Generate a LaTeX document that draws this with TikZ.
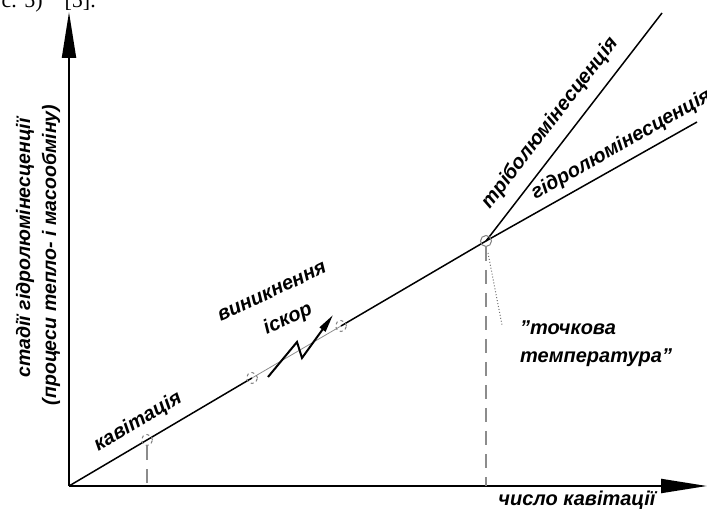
\documentclass[tikz,border=0pt]{standalone}
\usepackage{fontspec}
\setmainfont{Liberation Sans}
\newfontfamily\refserif{Liberation Serif}
\usetikzlibrary{arrows.meta}
\definecolor{guide}{HTML}{8C8C8C}

\begin{document}
\begin{tikzpicture}[x=1pt, y=1pt,
  axis/.style={line width=2pt, -{Triangle[length=46pt, width=14pt]}},
  curve/.style={line width=1.5pt},
  lbl/.style={font=\fontsize{20}{28}\selectfont\bfseries\itshape, inner sep=0pt},
  ylbl/.style={font=\fontsize{19.5}{24}\selectfont\bfseries\itshape, inner sep=0pt, rotate=90},
  drop/.style={guide, line width=1.5pt, dash pattern=on 14pt off 9pt},
  ring/.style={circle, draw=guide!90!black, line width=1pt, minimum size=11pt, inner sep=0pt},
  spark/.style={line width=2pt, -{Triangle[length=18pt, width=7pt]}}
]
  \useasboundingbox (0,0) rectangle (707,509);

  \node[font=\refserif\fontsize{22}{22}\selectfont, anchor=base east, inner sep=0pt] (citefrag) at (96,501) {с. 5)\hspace{22pt}[5].};

  \coordinate (O) at (69,23);
  \coordinate (ytip) at (69,497);
  \coordinate (xtip) at (707,23);
  \coordinate (kav) at (147,69);
  \coordinate (kavfoot) at (147,23);
  \coordinate (c1) at (252,131);
  \coordinate (c2) at (341,183);
  \coordinate (P) at (486,268);
  \coordinate (Pfoot) at (486,23);
  \coordinate (tribo) at (662,496);
  \coordinate (hydro) at (697,387);
  \coordinate (z0) at (268,132);
  \coordinate (z1) at (297,167);
  \coordinate (z2) at (302,151);
  \coordinate (z3) at (333,194);
  \coordinate (lead0) at (488,256);
  \coordinate (lead1) at (502,184);

  \draw[axis] (O) -- (ytip);
  \draw[axis] (O) -- (xtip);

  \draw[curve] (O) -- (c1);
  \draw[guide, line width=0.8pt] (c1) -- (c2);
  \draw[curve] (c2) -- (P) -- (hydro);
  \draw[curve] (P) -- (tribo);
  \draw[spark] (z0) -- (z1) -- (z2) -- (z3);

  \node[ring, dashed] (kavring) at (kav) {};
  \node[ring, dashed] (ring1) at (c1) {};
  \node[ring, dashed] (ring2) at (c2) {};
  \node[ring] (pring) at (P) {};

  \draw[drop] (kavring) -- (kavfoot);
  \draw[drop] (pring) -- (Pfoot);
  \draw[guide!80!black, dotted, line width=1pt] (lead0) -- (lead1);

  \node[lbl, rotate=30.4] (kavlab) at (138,87) {кавітація};
  \node[lbl, rotate=25] (sparklab1) at (272,217) {виникнення};
  \node[lbl, rotate=25] (sparklab2) at (288,190) {іскор};
  \node[lbl, rotate=52.3] (tribolab) at (550,386) {тріболюмінесценція};
  \node[lbl, rotate=29.5, anchor=west] (hydrolab) at (533,314) {гідролюмінесценція};
  \node[lbl, align=left, anchor=north west] (templab) at (520,188) {\char34точкова\\температура\char34};
  \node[ylbl] (ylab1) at (25,261) {стадії гідролюмінесценції};
  \node[ylbl] (ylab2) at (51,254) {(процеси тепло- і масообміну)};
  \node[lbl] (xlab) at (577,9) {число кавітації};
\end{tikzpicture}
\end{document}
